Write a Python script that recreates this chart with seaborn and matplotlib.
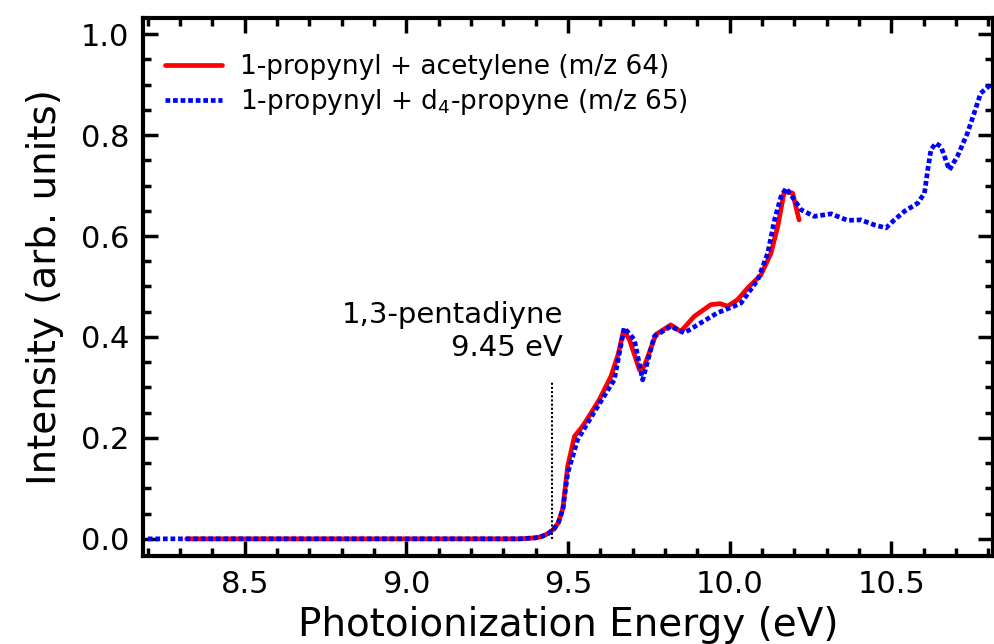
import matplotlib
matplotlib.use("Agg")
import matplotlib.pyplot as plt
from matplotlib.ticker import MultipleLocator
import seaborn as sns
import pandas as pd

# 1-propynyl + acetylene (m/z 64)
energy_64 = [8.32, 8.5, 8.8, 9.1, 9.35, 9.40, 9.42, 9.44, 9.457, 9.47, 9.484, 9.499,
             9.52, 9.545, 9.57, 9.597, 9.633, 9.655, 9.672, 9.69, 9.721, 9.736, 9.772,
             9.818, 9.849, 9.891, 9.942, 9.970, 9.994, 10.025, 10.056, 10.097, 10.128,
             10.149, 10.169, 10.195, 10.215]
signal_64 = [0.0, 0.0, 0.0, 0.0, 0.0, 0.002, 0.005, 0.011, 0.020, 0.032, 0.060, 0.144,
             0.203, 0.223, 0.248, 0.276, 0.322, 0.365, 0.413, 0.395, 0.335, 0.342, 0.405,
             0.424, 0.411, 0.441, 0.464, 0.466, 0.461, 0.474, 0.497, 0.523, 0.566,
             0.619, 0.688, 0.685, 0.632]

# 1-propynyl + d4-propyne (m/z 65)
energy_65 = [8.20, 8.5, 8.8, 9.1, 9.35, 9.40, 9.42, 9.44, 9.457, 9.47, 9.484, 9.499,
             9.53, 9.58, 9.643, 9.674, 9.705, 9.731, 9.767, 9.818, 9.86, 9.911, 9.963,
             10.014, 10.035, 10.087, 10.118, 10.139, 10.159, 10.175, 10.2, 10.221,
             10.262, 10.314, 10.365, 10.406, 10.448, 10.484, 10.51, 10.541, 10.582,
             10.603, 10.613, 10.623, 10.638, 10.654, 10.68, 10.705, 10.736, 10.757,
             10.777, 10.808, 10.83]
signal_65 = [0.0, 0.0, 0.0, 0.0, 0.0, 0.002, 0.005, 0.011, 0.020, 0.032, 0.058, 0.130,
             0.197, 0.250, 0.315, 0.418, 0.395, 0.315, 0.401, 0.421, 0.408, 0.428, 0.448,
             0.461, 0.467, 0.513, 0.566, 0.632, 0.678, 0.695, 0.672, 0.652,
             0.639, 0.644, 0.631, 0.632, 0.622, 0.616, 0.632, 0.649, 0.665,
             0.685, 0.731, 0.771, 0.784, 0.777, 0.731, 0.758, 0.804, 0.844,
             0.883, 0.900, 0.905]

labels = ["1-propynyl + acetylene (m/z 64)", "1-propynyl + d$_4$-propyne (m/z 65)"]
ie_energy = 9.45
ie_label = "1,3-pentadiyne\n9.45 eV"

df = pd.concat([
    pd.DataFrame({"energy": energy_64, "signal": signal_64, "series": labels[0]}),
    pd.DataFrame({"energy": energy_65, "signal": signal_65, "series": labels[1]}),
])

sns.set_style("ticks")
plt.rcParams["font.family"] = ["DejaVu Sans"]
plt.rcParams["text.color"] = "black"
plt.rcParams["axes.labelcolor"] = "black"
plt.rcParams["xtick.color"] = "black"
plt.rcParams["ytick.color"] = "black"

fig = plt.figure(figsize=(9.94, 6.44), dpi=100)
ax = fig.add_axes([143 / 994, 1 - 556 / 644, (993 - 143) / 994, (556 - 18) / 644])

sns.lineplot(data=df, x="energy", y="signal", hue="series", style="series",
             palette={labels[0]: "#ff0000", labels[1]: "#0000ff"},
             dashes={labels[0]: "", labels[1]: (1, 0.6)},
             linewidth=3.4, sort=False, ax=ax)

# threshold marker
ax.plot([ie_energy, ie_energy], [0, 0.31], color="black", linestyle=(0, (1, 1)), linewidth=1.5)
ax.text(9.485, 0.35, ie_label, ha="right", va="bottom", fontsize=21,
        linespacing=1.25)

ax.set_xlim(8.185, 10.815)
ax.set_ylim(-0.034, 1.032)
ax.xaxis.set_major_locator(MultipleLocator(0.5))
ax.xaxis.set_minor_locator(MultipleLocator(0.1))
ax.yaxis.set_major_locator(MultipleLocator(0.2))
ax.yaxis.set_minor_locator(MultipleLocator(0.05))
ax.tick_params(which="both", direction="in", top=True, right=True, width=2.5, color="black")
ax.tick_params(which="major", length=11, labelsize=22, pad=10)
ax.tick_params(which="minor", length=6)
for s in ax.spines.values():
    s.set_linewidth(3)
    s.set_color("black")

ax.set_xlabel("Photoionization Energy (eV)", fontsize=28, labelpad=5)
ax.set_ylabel("Intensity (arb. units)", fontsize=28, labelpad=12)

leg = ax.legend(loc="upper left", bbox_to_anchor=(0.0, 0.975), frameon=False,
                handlelength=2.15, borderaxespad=0.45, handletextpad=0.68,
                labelspacing=0.28, prop={"size": 19})
for line in leg.get_lines():
    line.set_linewidth(3.4)

fig.savefig("out.png", dpi=100)
